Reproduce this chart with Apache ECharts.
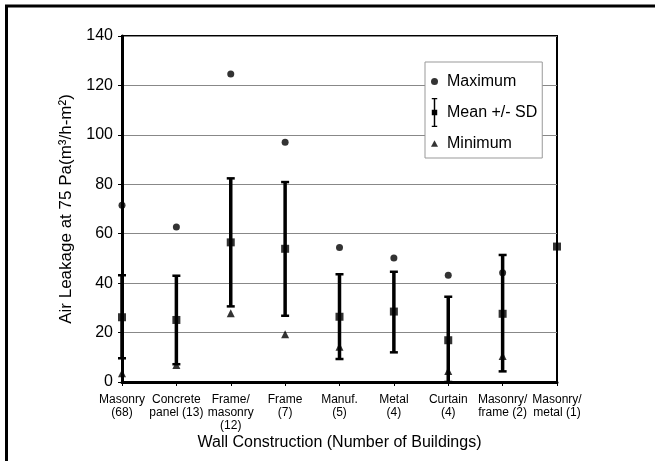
<!DOCTYPE html>
<html><head><meta charset="utf-8">
<script src="https://cdn.jsdelivr.net/npm/echarts@6/dist/echarts.min.js"></script>
<style>html,body{margin:0;padding:0;background:#fff}#c{width:655px;height:461px}</style>
</head><body><div id="c"></div>
<script>
const categories = ['Masonry\n(68)','Concrete\npanel (13)','Frame/\nmasonry\n(12)','Frame\n(7)','Manuf.\n(5)','Metal\n(4)','Curtain\n(4)','Masonry/\nframe (2)','Masonry/\nmetal (1)'];
const maxValues  = [71.5, 62.7, 124.6, 97.0, 54.4, 50.2, 43.2, 44.2, null];
const meanValues = [26.2, 25.1, 56.5, 53.9, 26.4, 28.5, 16.9, 27.6, 54.8];
const sdHigh     = [43.2, 43.0, 82.4, 80.9, 43.6, 44.6, 34.5, 51.4, null];
const sdLow      = [9.6, 7.2, 30.6, 26.8, 9.3, 12.0, 0, 4.3, null];
const minValues  = [3.5, 6.9, 27.8, 19.3, 14.3, null, 4.5, 10.5, null];
const yTicks = [0, 20, 40, 60, 80, 100, 120, 140];

const FONT = 'Liberation Sans, Arial, sans-serif';
const chart = echarts.init(document.getElementById('c'), null, {renderer: 'canvas'});
const errData = [];
categories.forEach((c, i) => { if (sdHigh[i] != null) errData.push([i, sdLow[i], sdHigh[i]]); });

const meanIcon = 'path://M0,0 H6 V1.5 H3.8 V13 H6 V19 H3.8 V30.5 H6 V32 H0 V30.5 H2.2 V19 H0 V13 H2.2 V1.5 H0 Z';
const triIcon = 'path://M5,0 L10,9 L0,9 Z';
const black = {color: '#000'};

chart.setOption({
  animation: false,
  backgroundColor: '#fff',
  textStyle: {fontFamily: FONT, color: '#000'},
  graphic: [{
    type: 'rect', z: 100, silent: true,
    shape: {x: 6.5, y: 6, width: 720, height: 520},
    style: {fill: 'none', stroke: '#000', lineWidth: 3}
  }],
  legend: {
    left: 425, top: 62, orient: 'vertical',
    backgroundColor: '#fff', borderColor: '#999', borderWidth: 1,
    padding: [5, 5, 0, 6],
    itemWidth: 7, itemHeight: 29, itemGap: 2,
    symbolKeepAspect: true,
    textStyle: {fontSize: 16, lineHeight: 29, color: '#000', fontFamily: FONT, padding: [0, 0, 0, 4]},
    data: [
      {name: 'Maximum', icon: 'circle', itemStyle: black},
      {name: 'Mean +/- SD', icon: meanIcon, itemStyle: black},
      {name: 'Minimum', icon: triIcon, itemStyle: black}
    ]
  },
  grid: {left: 122, right: 98, top: 36, bottom: 79, show: true, borderColor: '#000', borderWidth: 2, containLabel: false},
  xAxis: {
    type: 'category', data: categories, boundaryGap: false,
    name: 'Wall Construction (Number of Buildings)', nameLocation: 'middle', nameGap: 53,
    nameMoveOverlap: false,
    nameTextStyle: {fontSize: 16, color: '#000', fontFamily: FONT},
    axisLine: {lineStyle: {color: '#000', width: 3}},
    axisTick: {show: true, length: 4, lineStyle: {color: '#000', width: 1}},
    axisLabel: {interval: 0, fontSize: 12, lineHeight: 13, color: '#000', margin: 11, fontFamily: FONT},
    splitLine: {show: false}
  },
  yAxis: {
    type: 'value', min: yTicks[0], max: yTicks[yTicks.length - 1], interval: yTicks[1] - yTicks[0],
    name: 'Air Leakage at 75 Pa(m³/h-m²)', nameLocation: 'middle', nameGap: 47,
    nameMoveOverlap: false,
    nameTextStyle: {fontSize: 17, color: '#000', fontFamily: FONT},
    axisLine: {show: true, lineStyle: {color: '#000', width: 3}},
    axisTick: {show: true, length: 4, lineStyle: {color: '#000', width: 1}},
    axisLabel: {fontSize: 16, color: '#000', margin: 9, fontFamily: FONT},
    splitLine: {show: true, lineStyle: {color: '#888', width: 1}}
  },
  series: [
    {
      name: 'Mean +/- SD', type: 'custom', data: errData, encode: {x: 0, y: [1, 2]}, z: 3, clip: false,
      itemStyle: black,
      renderItem: function (params, api) {
        const x = api.value(0);
        const pLo = api.coord([x, api.value(1)]);
        const pHi = api.coord([x, api.value(2)]);
        const hw = 4;
        const st = {stroke: '#000', lineWidth: 3.5};
        const cap = {stroke: '#000', lineWidth: 2.5};
        return {type: 'group', children: [
          {type: 'line', shape: {x1: pLo[0], y1: pLo[1], x2: pHi[0], y2: pHi[1]}, style: st},
          {type: 'line', shape: {x1: pHi[0] - hw, y1: pHi[1], x2: pHi[0] + hw, y2: pHi[1]}, style: cap},
          {type: 'line', shape: {x1: pLo[0] - hw, y1: pLo[1], x2: pLo[0] + hw, y2: pLo[1]}, style: cap}
        ]};
      }
    },
    {name: 'Mean +/- SD', type: 'scatter', data: meanValues, symbol: 'rect', symbolSize: 8, itemStyle: black, z: 4, clip: false},
    {name: 'Maximum', type: 'scatter', data: maxValues, symbol: 'circle', symbolSize: 7, itemStyle: black, z: 5, clip: false},
    {name: 'Minimum', type: 'scatter', data: minValues, symbol: 'triangle', symbolSize: 8, itemStyle: black, z: 5, clip: false}
  ]
});
</script>
</body></html>
